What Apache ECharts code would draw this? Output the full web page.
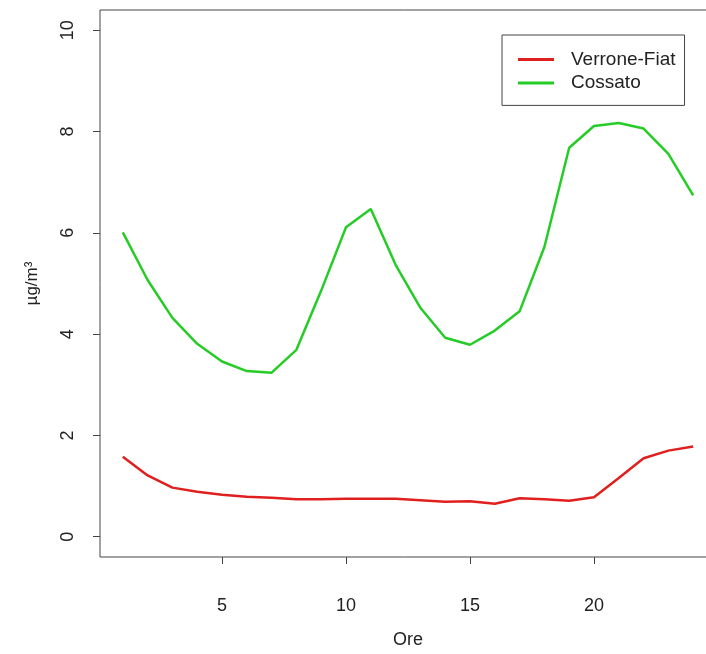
<!DOCTYPE html>
<html>
<head>
<meta charset="utf-8">
<script src="https://cdn.jsdelivr.net/npm/echarts@6/dist/echarts.min.js"></script>
<style>html,body{margin:0;padding:0;background:#fff;overflow:hidden;}#c{width:706px;height:654px;}</style>
</head>
<body>
<div id="c"></div>
<script>
const hours = [1,2,3,4,5,6,7,8,9,10,11,12,13,14,15,16,17,18,19,20,21,22,23,24];
const verroneFiat = [1.58,1.21,0.97,0.89,0.83,0.79,0.77,0.74,0.74,0.75,0.75,0.75,0.72,0.69,0.70,0.65,0.76,0.74,0.71,0.78,1.16,1.55,1.70,1.78];
const cossato = [6.01,5.07,4.32,3.81,3.46,3.27,3.24,3.69,4.86,6.11,6.47,5.37,4.52,3.93,3.79,4.07,4.45,5.72,7.68,8.11,8.17,8.06,7.56,6.74];
const xTicks = [5,10,15,20];
const yTicks = [0,2,4,6,8,10];
const seriesNames = ['Verrone-Fiat','Cossato'];
const colors = ['#e0201f','#26cc26'];

const font = 'Liberation Sans, Arial, sans-serif';
const chart = echarts.init(document.getElementById('c'), null, {renderer:'canvas'});
const pair = (xs, ys) => xs.map((x,i)=>[x, ys[i]]);
chart.setOption({
  animation:false,
  backgroundColor:'#fff',
  grid:{left:100, top:10, width:616, height:547, outerBoundsMode:'none', containLabel:false,
        show:true, borderColor:'#444', borderWidth:1, backgroundColor:'transparent'},
  xAxis:{
    type:'value', min:0.08, max:24.92,
    name:'Ore', nameLocation:'middle', nameGap:74,
    nameTextStyle:{fontFamily:font, fontSize:18, color:'#222'},
    axisLine:{show:false, onZero:false},
    splitLine:{show:false},
    axisTick:{show:true, length:7, lineStyle:{color:'#444'}, customValues:xTicks},
    axisLabel:{fontFamily:font, fontSize:18, color:'#222', margin:40, customValues:xTicks}
  },
  yAxis:{
    type:'value', min:-0.4, max:10.4,
    name:'µg/m³', nameLocation:'middle', nameGap:59, nameRotate:90,
    nameTextStyle:{fontFamily:font, fontSize:17, color:'#222'},
    axisLine:{show:false, onZero:false},
    splitLine:{show:false},
    axisTick:{show:true, length:7, lineStyle:{color:'#444'}, customValues:yTicks},
    axisLabel:{fontFamily:font, fontSize:18, color:'#222', margin:23, rotate:90, customValues:yTicks}
  },
  legend:{
    orient:'vertical', left:502, top:35,
    backgroundColor:'#fff', borderColor:'#444', borderWidth:1,
    padding:[15,9,13,16],
    itemWidth:36, itemHeight:3, itemGap:4.4,
    icon:'rect',
    textStyle:{fontFamily:font, fontSize:19, lineHeight:18, color:'#222', padding:[0,0,0,12]},
    data:seriesNames
  },
  series:[
    {name:seriesNames[0], type:'line', data:pair(hours, verroneFiat), symbol:'none', color:colors[0], lineStyle:{width:2.5, color:colors[0]}},
    {name:seriesNames[1], type:'line', data:pair(hours, cossato), symbol:'none', color:colors[1], lineStyle:{width:2.5, color:colors[1]}}
  ]
});
</script>
</body>
</html>
